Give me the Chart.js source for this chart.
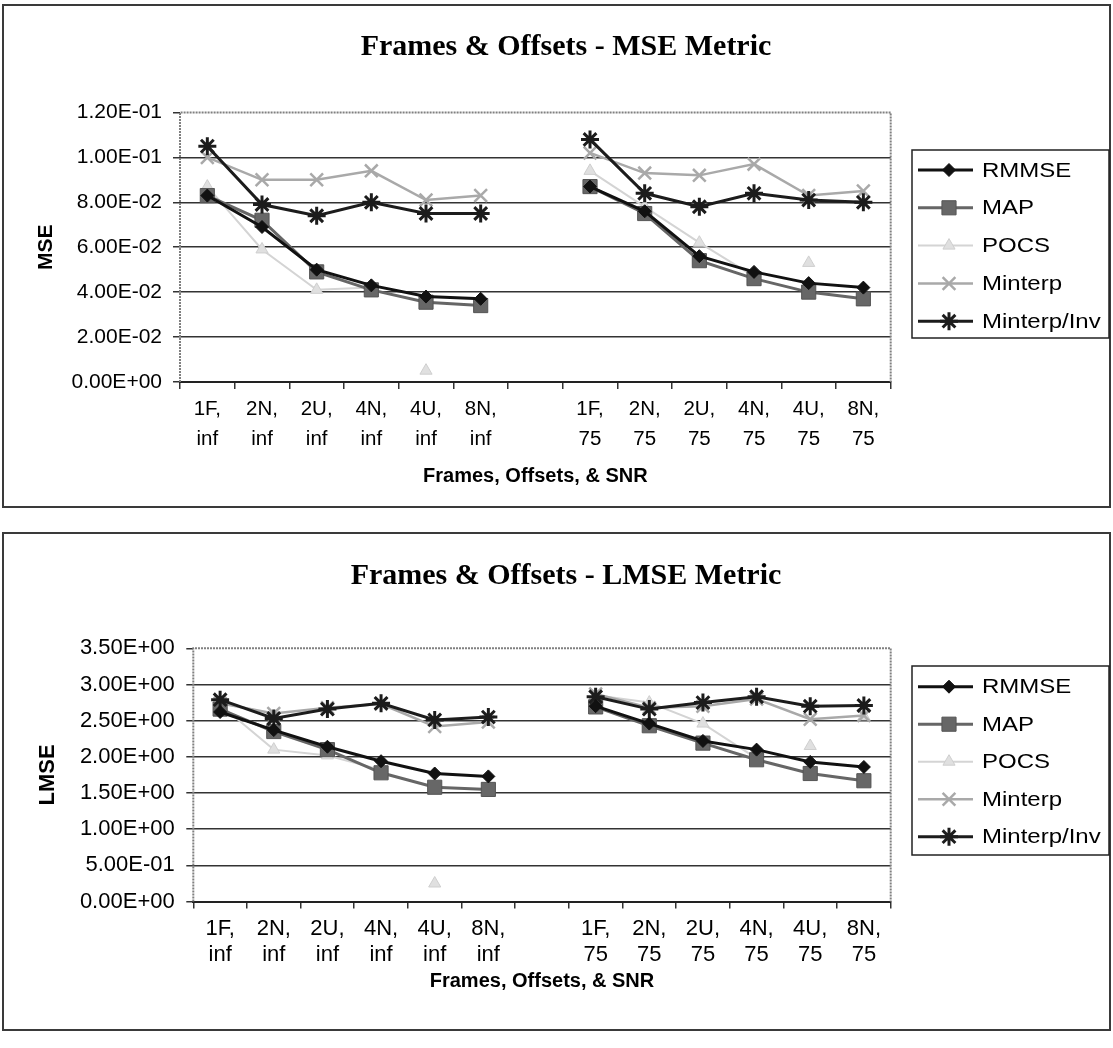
<!DOCTYPE html>
<html>
<head>
<meta charset="utf-8">
<script src="https://cdn.jsdelivr.net/npm/chart.js@4/dist/chart.umd.min.js"></script>
<style>
  html, body { margin: 0; padding: 0; background: #fff; }
  #wrap { position: relative; width: 1113px; height: 1048px; overflow: hidden; }
  canvas { position: absolute; left: 0; }
</style>
</head>
<body>
<div id="wrap">
  <canvas id="mseChart" width="1113" height="515" style="top:0"></canvas>
  <canvas id="lmseChart" width="1113" height="533" style="top:515px"></canvas>
</div>
<script>
// Categories: frames/offsets with SNR; the empty slot separates the two SNR groups
const categories = [
  ["1F,", "inf"], ["2N,", "inf"], ["2U,", "inf"], ["4N,", "inf"], ["4U,", "inf"], ["8N,", "inf"],
  "",
  ["1F,", "75"], ["2N,", "75"], ["2U,", "75"], ["4N,", "75"], ["4U,", "75"], ["8N,", "75"]
];
const seriesNames = ["RMMSE", "MAP", "POCS", "Minterp", "Minterp/Inv"];

// MSE metric
const mseRMMSE   = [0.083, 0.069, 0.050, 0.043, 0.038, 0.037, null, 0.087, 0.076, 0.056, 0.049, 0.044, 0.042];
const mseMAP     = [0.083, 0.072, 0.049, 0.041, 0.0355, 0.034, null, 0.087, 0.075, 0.054, 0.046, 0.040, 0.037];
const msePOCS    = [0.087, 0.059, 0.041, 0.042, 0.005, 0.035, null, 0.094, 0.078, 0.062, 0.047, 0.053, 0.039];
const mseMinterp = [0.100, 0.090, 0.090, 0.094, 0.081, 0.083, null, 0.102, 0.093, 0.092, 0.097, 0.083, 0.085];
const mseInv     = [0.105, 0.079, 0.074, 0.080, 0.075, 0.075, null, 0.108, 0.084, 0.078, 0.084, 0.081, 0.080];
const mseTickLabels = ["0.00E+00", "2.00E-02", "4.00E-02", "6.00E-02", "8.00E-02", "1.00E-01", "1.20E-01"];

// LMSE metric
const lmseRMMSE   = [2.62, 2.37, 2.14, 1.94, 1.77, 1.73, null, 2.70, 2.46, 2.22, 2.10, 1.93, 1.86];
const lmseMAP     = [2.66, 2.35, 2.10, 1.78, 1.58, 1.55, null, 2.69, 2.43, 2.19, 1.96, 1.77, 1.67];
const lmsePOCS    = [2.72, 2.10, 2.02, 1.82, 0.25, 1.56, null, 2.85, 2.75, 2.46, 1.98, 2.15, 2.56];
const lmseMinterp = [2.74, 2.60, 2.68, 2.73, 2.42, 2.48, null, 2.87, 2.68, 2.70, 2.80, 2.52, 2.57];
const lmseInv     = [2.79, 2.53, 2.66, 2.74, 2.51, 2.55, null, 2.83, 2.66, 2.75, 2.83, 2.70, 2.71];
const lmseTickLabels = ["0.00E+00", "5.00E-01", "1.00E+00", "1.50E+00", "2.00E+00", "2.50E+00", "3.00E+00", "3.50E+00"];

// POCS segments (by starting category index) whose faint connecting line does not show
const pocsFadedSegments = [3, 4, 10, 11];

const SANS = '"Liberation Sans", Arial, Helvetica, sans-serif';
const SERIF = '"Liberation Serif", "Times New Roman", serif';

// Line and marker look of each series, in legend order
const seriesStyles = [
  { borderColor: "#111", borderWidth: 3, pointStyle: "rectRot", pointRadius: 6.5, pointBackgroundColor: "#111", pointBorderColor: "#111", pointBorderWidth: 1, order: 1 },
  { borderColor: "#666", borderWidth: 3, pointStyle: "rect", pointRadius: 10, pointBackgroundColor: "#676767", pointBorderColor: "#555", pointBorderWidth: 1, order: 3 },
  { borderColor: "#d4d4d4", borderWidth: 2, pointStyle: "triangle", pointRadius: 7, pointBackgroundColor: "#e0e0e0", pointBorderColor: "#cfcfcf", pointBorderWidth: 1, order: 5,
    segment: { borderColor: (c) => pocsFadedSegments.includes(c.p0DataIndex) ? "rgba(0,0,0,0)" : undefined } },
  { borderColor: "#a9a9a9", borderWidth: 2.5, pointStyle: "crossRot", pointRadius: 9, pointBackgroundColor: "#a9a9a9", pointBorderColor: "#a9a9a9", pointBorderWidth: 2.5, order: 4 },
  { borderColor: "#1c1c1c", borderWidth: 3, pointStyle: "star", pointRadius: 9, pointBackgroundColor: "#1c1c1c", pointBorderColor: "#1c1c1c", pointBorderWidth: 3, order: 2 }
];

function makeDatasets(seriesValues) {
  return seriesValues.map((vals, i) => Object.assign({
    label: seriesNames[i],
    data: vals,
    fill: false,
    tension: 0,
    spanGaps: false,
    pointHoverRadius: seriesStyles[i].pointRadius
  }, seriesStyles[i]));
}

// Outer frame and serif title of each chart
const frameTitle = {
  id: "frameTitle",
  beforeDraw(chart, args, o) {
    const ctx = chart.ctx;
    ctx.save();
    ctx.fillStyle = "#fff";
    ctx.fillRect(0, 0, chart.width, chart.height);
    ctx.strokeStyle = "#3a3a3a";
    ctx.lineWidth = 2;
    ctx.strokeRect(o.x, o.y, o.w, o.h);
    ctx.fillStyle = "#000";
    ctx.font = "bold " + o.titleSize + "px " + SERIF;
    ctx.textAlign = "center";
    ctx.textBaseline = "middle";
    ctx.fillText(o.title, o.titleX, o.titleY);
    ctx.restore();
  }
};

// Dotted left, top and right edges of the plot area
const plotEdges = {
  id: "plotEdges",
  beforeDatasetsDraw(chart) {
    const { ctx, chartArea: a } = chart;
    ctx.save();
    ctx.strokeStyle = "#808080";
    ctx.lineWidth = 2;
    ctx.setLineDash([2, 1]);
    ctx.beginPath();
    ctx.moveTo(a.left, a.bottom);
    ctx.lineTo(a.left, a.top);
    ctx.lineTo(a.right, a.top);
    ctx.lineTo(a.right, a.bottom);
    ctx.stroke();
    ctx.restore();
  }
};

function markerAt(ctx, ds, x, y) {
  const opts = { pointStyle: ds.pointStyle, radius: ds.pointRadius, borderWidth: ds.pointBorderWidth, rotation: 0 };
  ctx.fillStyle = ds.pointBackgroundColor;
  ctx.strokeStyle = ds.pointBorderColor;
  ctx.lineWidth = ds.pointBorderWidth;
  Chart.helpers.drawPoint(ctx, opts, x, y);
}

// Boxed legend with line samples and markers; the legend lettering is set slightly wide
const boxLegend = {
  id: "boxLegend",
  afterDraw(chart, args, o) {
    const ctx = chart.ctx;
    ctx.save();
    ctx.fillStyle = "#fff";
    ctx.fillRect(o.x, o.y, o.w, o.h);
    ctx.strokeStyle = "#222";
    ctx.lineWidth = 1.5;
    ctx.strokeRect(o.x, o.y, o.w, o.h);
    chart.data.datasets.forEach((ds, i) => {
      const y = o.y + o.first + i * o.step;
      ctx.setLineDash([]);
      ctx.strokeStyle = ds.borderColor;
      ctx.lineWidth = ds.borderWidth;
      ctx.beginPath();
      ctx.moveTo(o.x + 6, y);
      ctx.lineTo(o.x + 61, y);
      ctx.stroke();
      markerAt(ctx, ds, o.x + 37, y);
      ctx.save();
      ctx.translate(o.x + 70, y);
      ctx.scale(o.stretch, 1);
      ctx.fillStyle = "#000";
      ctx.font = o.fontSize + "px " + SANS;
      ctx.textAlign = "left";
      ctx.textBaseline = "middle";
      ctx.fillText(ds.label, 0, 1);
      ctx.restore();
    });
    ctx.restore();
  }
};

function buildChart(canvasId, seriesValues, yMax, yStep, yTickLabels, yTitle, L) {
  return new Chart(document.getElementById(canvasId), {
    type: "line",
    data: { labels: categories, datasets: makeDatasets(seriesValues) },
    options: {
      responsive: false,
      animation: false,
      devicePixelRatio: 1,
      events: [],
      layout: { padding: { left: L.padLeft, right: L.padRight, top: L.padTop, bottom: L.padBottom } },
      plugins: {
        legend: { display: false },
        tooltip: { enabled: false },
        frameTitle: L.frame,
        boxLegend: L.legend
      },
      scales: {
        x: {
          type: "category",
          offset: true,
          grid: { offset: true, drawOnChartArea: false, drawTicks: true, tickLength: 7, color: "#333", lineWidth: 1.5 },
          border: { display: true, color: "#222", width: 2 },
          ticks: {
            color: "#000", autoSkip: false, maxRotation: 0, padding: L.xPad,
            font: { family: SANS, size: L.xFont, lineHeight: L.xLine }
          },
          title: {
            display: true, text: "Frames, Offsets, & SNR", color: "#000", padding: 0,
            font: { family: SANS, size: 20, weight: "bold", lineHeight: 1.2 }
          },
          afterFit(s) { s.height = L.xH; }
        },
        y: {
          min: 0,
          max: yMax,
          grid: {
            drawTicks: true, tickLength: 7, lineWidth: 1.5, tickColor: "#333",
            color: (c) => (c.tick && Math.abs(c.tick.value - yMax) < 1e-9) ? "rgba(0,0,0,0)" : "#333"
          },
          border: { display: false },
          ticks: {
            stepSize: yStep, color: "#000", padding: L.yPad,
            font: { family: SANS, size: L.yFont },
            callback: (v, i) => yTickLabels[i]
          },
          title: {
            display: true, text: yTitle, color: "#000", padding: 0,
            font: { family: SANS, size: L.yTitleFont, weight: "bold", lineHeight: 1.2 }
          },
          afterFit(s) { s.width = L.yW; }
        }
      }
    },
    plugins: [frameTitle, plotEdges, boxLegend]
  });
}

// Top chart: MSE
buildChart("mseChart",
  [mseRMMSE, mseMAP, msePOCS, mseMinterp, mseInv],
  0.12, 0.02, mseTickLabels, "MSE",
  {
    padLeft: 33.4, padRight: 222.3, padTop: 112.5, padBottom: 26.6,
    yW: 146.6, yPad: 11, yFont: 21, yTitleFont: 21,
    xH: 106.5, xPad: 5.5, xFont: 20.5, xLine: 1.46,
    frame: { x: 3, y: 5, w: 1107, h: 502, title: "Frames & Offsets - MSE Metric", titleX: 566, titleY: 47, titleSize: 30 },
    legend: { x: 912, y: 150, w: 197, h: 188, first: 20, step: 37.8, fontSize: 20.5, stretch: 1.17 }
  });

// Bottom chart: LMSE
buildChart("lmseChart",
  [lmseRMMSE, lmseMAP, lmsePOCS, lmseMinterp, lmseInv],
  3.5, 0.5, lmseTickLabels, "LMSE",
  {
    padLeft: 35, padRight: 222.3, padTop: 133.3, padBottom: 54.6,
    yW: 158.3, yPad: 11.6, yFont: 22, yTitleFont: 22,
    xH: 91.8, xPad: 6.8, xFont: 22, xLine: 1.2,
    frame: { x: 3, y: 18, w: 1107, h: 497, title: "Frames & Offsets - LMSE Metric", titleX: 566, titleY: 61, titleSize: 30 },
    legend: { x: 912, y: 151, w: 197, h: 189, first: 20.7, step: 37.5, fontSize: 20.5, stretch: 1.17 }
  });
</script>
</body>
</html>
